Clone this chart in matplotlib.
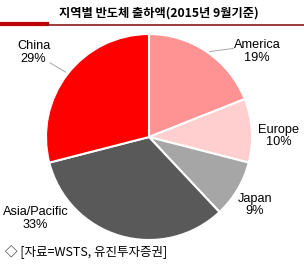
import matplotlib.pyplot as plt
from matplotlib.lines import Line2D

plt.rcParams['font.family'] = ['Liberation Sans', 'Noto Sans CJK KR', 'DejaVu Sans']

# 데이터
regions = ['America', 'Europe', 'Japan', 'Asia/Pacific', 'China']
shares = [19, 10, 9, 33, 29]
colors = ['#FF9393', '#FFCFCF', '#A6A6A6', '#595959', '#FF0000']
title = '지역별 반도체 출하액(2015년 9월기준)'
source = '◇ [자료=WSTS, 유진투자증권]'

# 라벨 위치 (데이터 좌표, 반지름 1 기준)
label_pos = [(1.05, 0.83), (1.26, 0.01), (1.03, -0.66), (-1.10, -0.79), (-1.12, 0.82)]

W, H = 304, 265
fig = plt.figure(figsize=(W / 100, H / 100), dpi=100)

cx, cy, r = 149, 137, 103
ax = fig.add_axes([(cx - r) / W, (H - cy - r) / H, 2 * r / W, 2 * r / H])
wedges, _ = ax.pie(shares, colors=colors, startangle=90, counterclock=False,
                   wedgeprops=dict(edgecolor='white', linewidth=1.5))
ax.set_xlim(-1, 1)
ax.set_ylim(-1, 1)
ax.set_aspect('auto')

for name, val, (x, y) in zip(regions, shares, label_pos):
    ax.text(x, y, f'{name}\n{val}%', ha='center', va='center', fontsize=9.2,
            linespacing=1.1, clip_on=False)

# 지시선
ax.plot([-0.96, -0.81], [0.72, 0.63], color='#A6A6A6', lw=0.7, clip_on=False)
ax.plot([0.59, 0.82], [0.83, 0.86], color='#A6A6A6', lw=0.7, clip_on=False)

# 제목 및 상단 선
fig.text(159 / W, 1 - 13 / H, title, ha='center', va='center', fontsize=8.8,
         fontweight='bold', family=['Noto Sans CJK KR', 'DejaVu Sans'])
fig.add_artist(Line2D([0, 47 / W], [1 - 24 / H] * 2, color='#C00000', lw=3))
fig.add_artist(Line2D([47 / W, 1], [1 - 25.3 / H] * 2, color='#8B1A1A', lw=1.2))

fig.text(5 / W, 1 - 252 / H, source, ha='left', va='center', fontsize=9,
         family=['Noto Sans CJK KR', 'DejaVu Sans'])

fig.savefig('out.png', dpi=100)
